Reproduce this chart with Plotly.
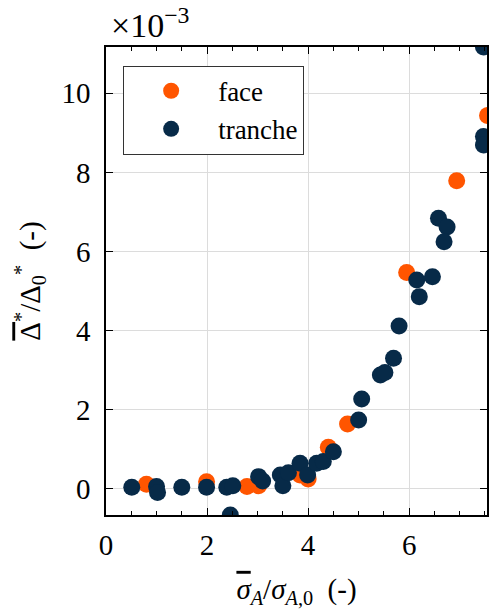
import plotly.graph_objects as go

# values in units of 1e-3 (as displayed with the x10^-3 multiplier)
face_x = [0.80, 1.99, 2.79, 3.02, 3.84, 4.00, 4.40, 4.78, 5.95, 6.94, 7.55]
face_y = [0.12, 0.18, 0.06, 0.08, 0.35, 0.25, 1.05, 1.64, 5.47, 7.79, 9.44]

tranche_x = [0.51, 1.00, 1.02, 1.50, 1.99, 2.39, 2.51, 2.46, 3.02, 3.10, 3.45, 3.50,
             3.61, 3.84, 3.99, 4.17, 4.30, 4.50, 5.00, 5.06, 5.43, 5.52, 5.69, 5.80,
             6.15, 6.20, 6.46, 6.58, 6.75, 6.69, 7.47, 7.47, 7.47]
tranche_y = [0.04, 0.06, -0.09, 0.04, 0.04, 0.04, 0.08, -0.66, 0.31, 0.20, 0.35, 0.08,
             0.41, 0.65, 0.35, 0.65, 0.69, 0.94, 1.74, 2.27, 2.88, 2.94, 3.30, 4.12,
             5.28, 4.86, 5.36, 6.84, 6.62, 6.25, 11.17, 8.91, 8.69]

x_ticks = [0, 2, 4, 6]
y_ticks = [0, 2, 4, 6, 8, 10]

ORANGE = "#FF5500"
NAVY = "#072A48"
FONT = "Liberation Serif, DejaVu Serif, serif"
FS = 29

OL = '<span style="text-decoration:overline">{}</span>'

fig = go.Figure()
fig.add_trace(go.Scatter(x=face_x, y=face_y, mode="markers", name="face",
                         marker=dict(color=ORANGE, size=17, line=dict(width=0))))
fig.add_trace(go.Scatter(x=tranche_x, y=tranche_y, mode="markers", name="tranche",
                         marker=dict(color=NAVY, size=17, line=dict(width=0))))

ymin = min(min(face_y), min(tranche_y))
ymax = max(max(face_y), max(tranche_y))

axis_common = dict(
    showline=True, linecolor="black", linewidth=1.5, mirror="allticks",
    ticks="inside", ticklen=7, tickwidth=1, tickcolor="black",
    showgrid=True, gridcolor="#dcdcdc", gridwidth=1, zeroline=False,
    automargin=False,
    tickfont=dict(family=FONT, size=FS, color="black"),
)

fig.update_layout(
    width=489, height=610,
    margin=dict(l=106, r=2, t=47, b=95),
    paper_bgcolor="white", plot_bgcolor="white",
    font=dict(family=FONT, color="black", size=FS),
    showlegend=True,
    legend=dict(x=0.045, y=0.96, xanchor="left", yanchor="top",
                bgcolor="white", bordercolor="#333333", borderwidth=1,
                font=dict(family=FONT, size=27, color="black"),
                itemwidth=84, tracegroupgap=0),
    xaxis=dict(range=[0, 7.54], tickvals=x_ticks, ticktext=[str(v) for v in x_ticks],
               minor=dict(dtick=0.5, ticks="inside", ticklen=4, tickcolor="black", showgrid=False),
               ticklabelstandoff=3,
               title=dict(text="<i>" + OL.format("σ") + "</i><sub><i>A</i></sub>/<i>σ</i><sub><i>A</i>,0</sub>  (-)",
                          font=dict(family=FONT, size=FS), standoff=19),
               **axis_common),
    yaxis=dict(range=[ymin, ymax], tickvals=y_ticks, ticktext=[str(v) for v in y_ticks],
               ticklabelstandoff=8,
               title=dict(text=OL.format("Δ") + "<sup>*</sup>/Δ<sub>0</sub><sup>*</sup>  (-)",
                          font=dict(family=FONT, size=FS), standoff=12),
               **axis_common),
    annotations=[dict(text="×10<sup>−3</sup>", xref="paper", yref="paper", x=0.008, y=1.0,
                      xanchor="left", yanchor="bottom", yshift=1, showarrow=False,
                      font=dict(family=FONT, size=34, color="black"))],
)

fig.write_html("out.html", config={"displayModeBar": False},
               post_script="document.body.style.margin='0';document.body.style.overflow='hidden';")
